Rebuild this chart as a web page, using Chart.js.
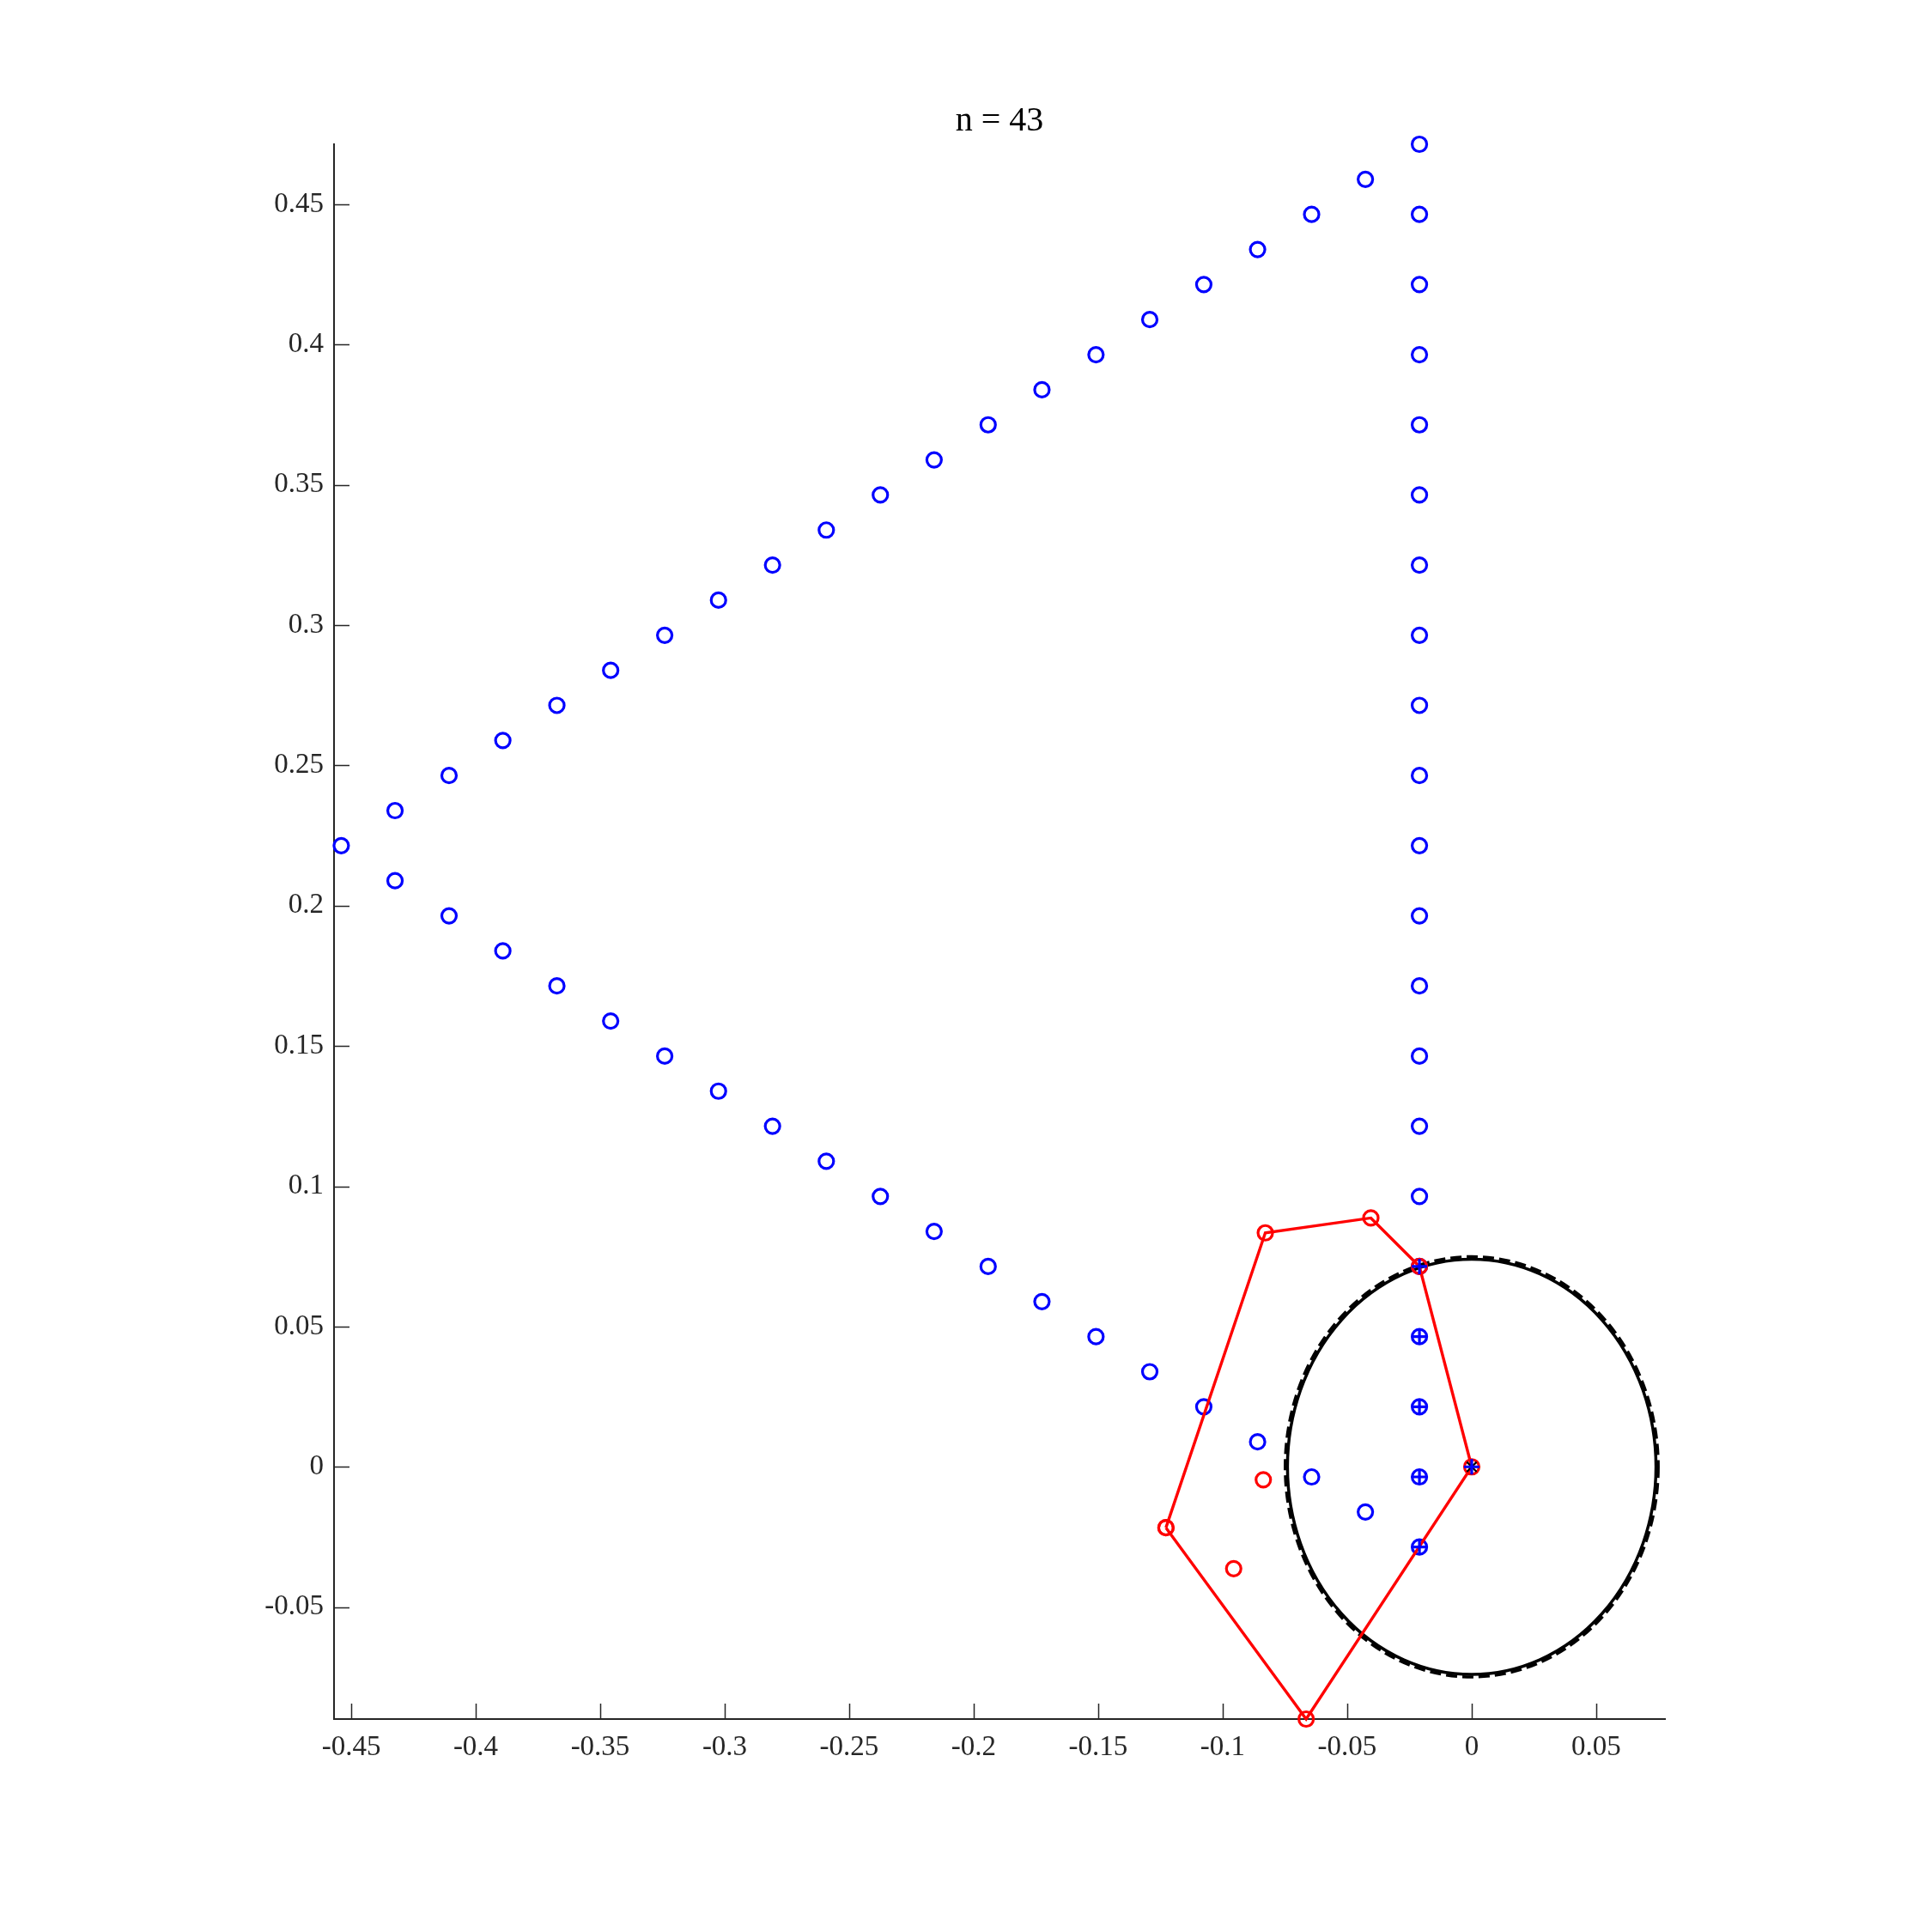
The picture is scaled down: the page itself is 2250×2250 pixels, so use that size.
<!DOCTYPE html>
<html>
<head>
<meta charset="utf-8">
<script src="https://cdn.jsdelivr.net/npm/chart.js@4/dist/chart.umd.min.js"></script>
<style>
  html, body { margin: 0; padding: 0; background: #ffffff; }
  #c { display: block; }
</style>
</head>
<body>
<canvas id="c" width="2250" height="2250"></canvas>
<script>
// ---------- data ----------
const titleText = 'n = 43';

// blue circles: vertical column, upper diagonal, lower diagonal
const blueX = [
  -0.0210, -0.0210, -0.0210, -0.0210, -0.0210, -0.0210, -0.0210, -0.0210, -0.0210, -0.0210, -0.0210,
  -0.0210, -0.0210, -0.0210, -0.0210, -0.0210, -0.0210, -0.0210, -0.0210, -0.0210, -0.0210,
  -0.0427, -0.0643, -0.0860, -0.1076, -0.1293, -0.1509, -0.1726, -0.1942, -0.2159, -0.2375,
  -0.2592, -0.2808, -0.3025, -0.3241, -0.3458, -0.3674, -0.3891, -0.4107, -0.4324, -0.4540,
  -0.4324, -0.4107, -0.3891, -0.3674, -0.3458, -0.3241, -0.3025, -0.2808, -0.2592, -0.2375,
  -0.2159, -0.1942, -0.1726, -0.1509, -0.1293, -0.1076, -0.0860, -0.0643, -0.0427
];
const blueY = [
  0.4714, 0.4464, 0.4214, 0.3964, 0.3714, 0.3464, 0.3214, 0.2964, 0.2714, 0.2464, 0.2214,
  0.1964, 0.1714, 0.1464, 0.1214, 0.0964, 0.0714, 0.0464, 0.0214, -0.0036, -0.0286,
  0.4589, 0.4464, 0.4339, 0.4214, 0.4089, 0.3964, 0.3839, 0.3714, 0.3589, 0.3464,
  0.3339, 0.3214, 0.3089, 0.2964, 0.2839, 0.2714, 0.2589, 0.2464, 0.2339, 0.2214,
  0.2089, 0.1964, 0.1839, 0.1714, 0.1589, 0.1464, 0.1339, 0.1214, 0.1089, 0.0964,
  0.0839, 0.0714, 0.0589, 0.0464, 0.0339, 0.0214, 0.0089, -0.0036, -0.0161
];

// blue plus markers
const plusX = [-0.0210, -0.0210, -0.0210, -0.0210, -0.0210, 0];
const plusY = [0.0714, 0.0464, 0.0214, -0.0036, -0.0286, 0];

// red polygon (closed)
const redPolyX = [-0.1228, -0.0829, -0.0405, -0.0210, 0, -0.0665, -0.1228];
const redPolyY = [-0.0217, 0.0834, 0.0887, 0.0714, 0, -0.0899, -0.0217];

// extra red circles
const redExtraX = [-0.0837, -0.0956];
const redExtraY = [-0.0046, -0.0363];

// black asterisk
const starX = [0];
const starY = [0];

// black circles centred on origin: radii (data units)
const circleCenter = [0, 0];
const circleRadii = [0.0740, 0.0749];
const circleDashed = [false, true];

// axes
const xLimits = [-0.4569, 0.0776];
const yLimits = [-0.0899, 0.4714];
const xTicks = [-0.45, -0.4, -0.35, -0.3, -0.25, -0.2, -0.15, -0.1, -0.05, 0, 0.05];
const xTickLabels = ['-0.45', '-0.4', '-0.35', '-0.3', '-0.25', '-0.2', '-0.15', '-0.1', '-0.05', '0', '0.05'];
const yTicks = [-0.05, 0, 0.05, 0.1, 0.15, 0.2, 0.25, 0.3, 0.35, 0.4, 0.45];
const yTickLabels = ['-0.05', '0', '0.05', '0.1', '0.15', '0.2', '0.25', '0.3', '0.35', '0.4', '0.45'];

// ---------- helpers ----------
const pts = (xs, ys) => xs.map((x, i) => ({ x: x, y: ys[i] }));
const AXIS_COLOR = '#262626';
const FONT = "'Liberation Serif', 'Times New Roman', serif";

const circlePlugin = {
  id: 'circles',
  beforeDatasetsDraw(chart) {
    const { ctx, scales: { x, y } } = chart;
    const cx = x.getPixelForValue(circleCenter[0]);
    const cy = y.getPixelForValue(circleCenter[1]);
    circleRadii.forEach((r, i) => {
      const rx = Math.abs(x.getPixelForValue(circleCenter[0] + r) - cx);
      const ry = Math.abs(y.getPixelForValue(circleCenter[1] + r) - cy);
      ctx.save();
      ctx.beginPath();
      ctx.ellipse(cx, cy, rx, ry, 0, 0, Math.PI * 2);
      ctx.strokeStyle = '#000000';
      ctx.lineWidth = 3.5;
      ctx.setLineDash(circleDashed[i] ? [13, 6] : []);
      ctx.stroke();
      ctx.restore();
    });
  }
};

const tickPlugin = {
  id: 'innerTicks',
  afterDraw(chart) {
    const { ctx, chartArea, scales: { x, y } } = chart;
    const len = 18;
    ctx.save();
    ctx.strokeStyle = AXIS_COLOR;
    ctx.lineWidth = 1.5;
    ctx.beginPath();
    xTicks.forEach(v => {
      const px = Math.round(x.getPixelForValue(v)) + 0.5;
      ctx.moveTo(px, chartArea.bottom);
      ctx.lineTo(px, chartArea.bottom - len);
    });
    yTicks.forEach(v => {
      const py = Math.round(y.getPixelForValue(v)) + 0.5;
      ctx.moveTo(chartArea.left, py);
      ctx.lineTo(chartArea.left + len, py);
    });
    ctx.stroke();
    // title
    ctx.fillStyle = '#000000';
    ctx.font = '40px ' + FONT;
    ctx.textAlign = 'center';
    ctx.textBaseline = 'alphabetic';
    ctx.fillText(titleText, (chartArea.left + chartArea.right) / 2, 152);
    ctx.restore();
  }
};

const markerCommon = {
  showLine: false,
  clip: false,
  pointBackgroundColor: 'rgba(0,0,0,0)',
  pointHoverRadius: 0
};

new Chart(document.getElementById('c'), {
  type: 'scatter',
  data: {
    datasets: [
      Object.assign({}, markerCommon, {
        label: 'blue',
        data: pts(blueX, blueY),
        pointStyle: 'circle',
        pointRadius: 8.5,
        pointBorderWidth: 3.2,
        pointBorderColor: '#0000ff',
        borderColor: '#0000ff',
        order: 6
      }),
      Object.assign({}, markerCommon, {
        label: 'redExtra',
        data: pts(redExtraX, redExtraY),
        pointStyle: 'circle',
        pointRadius: 8.5,
        pointBorderWidth: 3.2,
        pointBorderColor: '#ff0000',
        borderColor: '#ff0000',
        order: 5
      }),
      Object.assign({}, markerCommon, {
        label: 'redPoly',
        data: pts(redPolyX, redPolyY),
        showLine: true,
        borderColor: '#ff0000',
        borderWidth: 3.4,
        tension: 0,
        pointStyle: 'circle',
        pointRadius: 8.5,
        pointBorderWidth: 3.2,
        pointBorderColor: '#ff0000',
        order: 4
      }),
      Object.assign({}, markerCommon, {
        label: 'star',
        data: pts(starX, starY),
        pointStyle: 'star',
        pointRadius: 8,
        pointBorderWidth: 2.2,
        pointBorderColor: '#000000',
        borderColor: '#000000',
        order: 3
      }),
      Object.assign({}, markerCommon, {
        label: 'plus',
        data: pts(plusX, plusY),
        pointStyle: 'cross',
        pointRadius: 9,
        pointBorderWidth: 3.2,
        pointBorderColor: '#0000ff',
        borderColor: '#0000ff',
        order: 2
      })
    ]
  },
  options: {
    responsive: false,
    animation: false,
    devicePixelRatio: 1,
    events: [],
    layout: { padding: { left: 0, right: 311, top: 168, bottom: 0 } },
    plugins: {
      legend: { display: false },
      tooltip: { enabled: false },
      title: { display: false }
    },
    scales: {
      x: {
        type: 'linear',
        position: 'bottom',
        min: xLimits[0],
        max: xLimits[1],
        afterBuildTicks: s => { s.ticks = xTicks.map(v => ({ value: v })); },
        afterFit: s => { s.height = 248; },
        grid: { display: true, drawOnChartArea: false, drawTicks: false },
        border: { display: true, color: AXIS_COLOR, width: 2 },
        ticks: {
          autoSkip: false,
          maxRotation: 0,
          padding: 14,
          color: AXIS_COLOR,
          font: { family: FONT, size: 33 },
          callback: (v, i) => xTickLabels[i]
        }
      },
      y: {
        type: 'linear',
        position: 'left',
        min: yLimits[0],
        max: yLimits[1],
        afterBuildTicks: s => { s.ticks = yTicks.map(v => ({ value: v })); },
        afterFit: s => { s.width = 389; },
        grid: { display: true, drawOnChartArea: false, drawTicks: false },
        border: { display: true, color: AXIS_COLOR, width: 2 },
        ticks: {
          autoSkip: false,
          padding: 12,
          color: AXIS_COLOR,
          font: { family: FONT, size: 33 },
          callback: (v, i) => yTickLabels[i]
        }
      }
    }
  },
  plugins: [circlePlugin, tickPlugin]
});
</script>
</body>
</html>
